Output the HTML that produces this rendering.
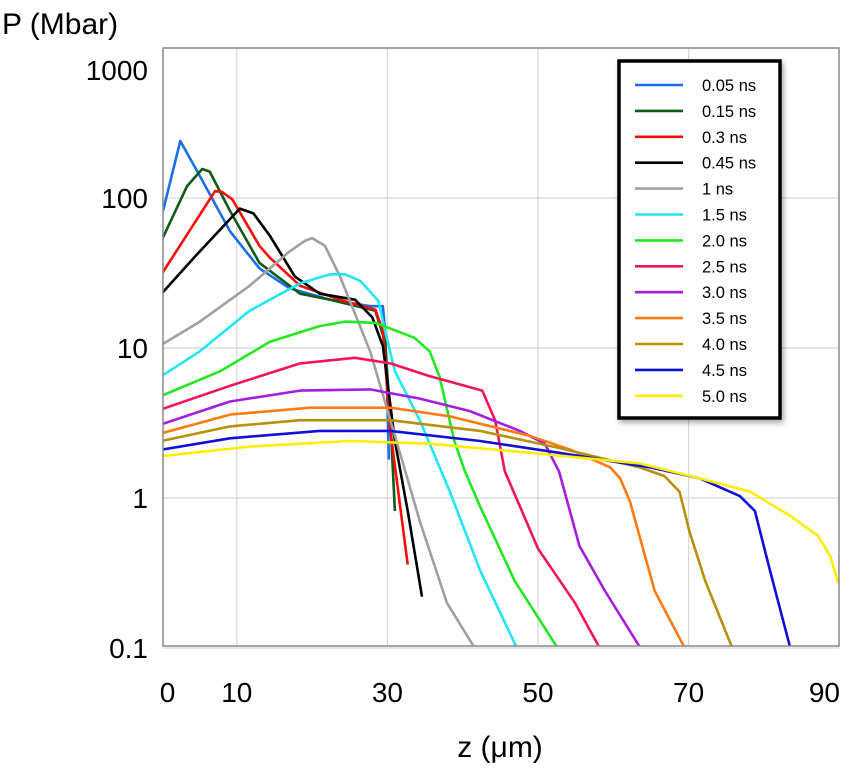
<!DOCTYPE html>
<html><head><meta charset="utf-8"><style>
body{margin:0;background:#fff;width:849px;height:776px;overflow:hidden;font-family:"Liberation Sans",sans-serif}
</style></head><body>
<svg id="chart" width="849" height="776" xmlns="http://www.w3.org/2000/svg">
<defs><clipPath id="pc"><rect x="163" y="48" width="676" height="598"/></clipPath>
<filter id="sh" x="-10%" y="-10%" width="130%" height="130%"><feDropShadow dx="2" dy="3" stdDeviation="3" flood-opacity="0.35"/></filter></defs>
<g id="grid"></g>
<g id="series" clip-path="url(#pc)"></g>
<rect x="163" y="48" width="676" height="598" fill="none" stroke="#888" stroke-width="1.5"/>
<g id="ticks" font-size="28" fill="#000"></g>
<text x="2" y="34" font-size="30">P (Mbar)</text>
<text x="500" y="757" font-size="30" text-anchor="middle">z (μm)</text>
<g id="legend"></g>
</svg>
<script>
const xTicks=[0,10,30,50,70,90];
const xGrid=[10,30,50,70];
const yTicks=[1000,100,10,1,0.1];
const yTickLabels=["1000","100","10","1","0.1"];
const seriesNames=["0.05 ns","0.15 ns","0.3 ns","0.45 ns","1 ns","1.5 ns","2.0 ns","2.5 ns","3.0 ns","3.5 ns","4.0 ns","4.5 ns","5.0 ns"];
const seriesColors=["#1a6fe8","#0f5a14","#ff0a0a","#000000","#a0a0a0","#22e6f5","#22e822","#f5145a","#a51ee0","#ff7a12","#b8900c","#1010d8","#ffee00"];
const z005=[0.2,2.5,5.1,9.1,13,17,22.4,27.7,29.4,29.7,30,30.2];
const p005=[82,240,140,60,34,25,21,19,19,13,4.4,1.8];
const z015=[0,3.4,5.4,6.4,9.1,13,18.4,22.4,28.4,29.7,30.4,31];
const p015=[52,120,156,150,82,37,23,21,17.7,11,3.3,0.82];
const z03=[0,7.1,8,9.4,13,14.4,18.4,23.7,28.4,29.4,30.4,32.7];
const p03=[31,111,110,98,48,40,26,21,18,13,2.8,0.36];
const z045=[0,4.5,10.4,12.2,14.4,17.7,21,25.7,28,29.4,31,32.7,34.6];
const p045=[23,41,85,79,56,30,23,21,16,10.3,2.4,0.82,0.22];
const z1=[0,5.1,11.7,17,19.1,20,21.7,23.7,27.7,30.4,34.3,37.9,41.6];
const p1=[10.5,15,26,44,52,54,48,30,9.5,3.3,0.7,0.2,0.1];
const z15=[0,5.1,11.7,18.4,22.4,24.4,26.4,28.8,29.7,31,34.3,38.3,42.3,47.2];
const p15=[6.5,9.5,17.7,27,31,31,28,20.6,13,7,3.3,1.1,0.33,0.1];
const z2=[0,7.8,14.4,21,24.4,28.4,33.6,35.6,36.9,38.9,40.3,42.3,46.9,52.6];
const p2=[4.8,7,11,14,15,14.7,11.7,9.5,6.5,2.4,1.5,0.88,0.28,0.1];
const z25=[0,9.1,18.4,25.7,30.4,35.6,42.6,44.3,45.6,47.6,50,54.9,58.2];
const p25=[3.9,5.6,7.9,8.6,7.9,6.5,5.2,3.3,1.5,0.88,0.46,0.2,0.1];
const z3=[0,9.1,18.4,27.7,34.3,40.9,47.6,50.9,52.8,55.5,58.9,63.6];
const p3=[3.1,4.4,5.2,5.3,4.6,3.8,2.8,2.3,1.5,0.48,0.24,0.1];
const z35=[0,9.1,19.7,30.4,38.3,48.9,54.3,59.6,60.9,62.2,65.5,69.5];
const p35=[2.7,3.6,4.0,4.0,3.5,2.6,2.1,1.6,1.35,0.95,0.24,0.1];
const z4=[0,9.1,18.4,30.4,42.3,52.9,63.5,66.8,68.8,70.1,72.2,75.8];
const p4=[2.4,3.0,3.3,3.3,2.8,2.15,1.6,1.4,1.1,0.6,0.28,0.1];
const z45=[0,9.1,21,30.4,42.3,52.8,64.9,71.5,76.8,78.8,80.8,83.5];
const p45=[2.1,2.5,2.8,2.8,2.4,2.0,1.6,1.35,1.03,0.82,0.33,0.1];
const z5=[0,11.7,25,35.6,48.9,63.5,71.5,78.2,83.5,87.2,88.8,89.9];
const p5=[1.9,2.2,2.4,2.3,2.0,1.7,1.35,1.1,0.76,0.56,0.41,0.27];
const allZ=[z005,z015,z03,z045,z1,z15,z2,z25,z3,z35,z4,z45,z5];
const allP=[p005,p015,p03,p045,p1,p15,p2,p25,p3,p35,p4,p45,p5];
const NS="http://www.w3.org/2000/svg";
function X(z){return 161.5+7.53*z;}
function Y(p){return 48+150*(3-Math.log10(p));}
function mk(t,a,parent){const e=document.createElementNS(NS,t);for(const k in a)e.setAttribute(k,a[k]);parent.appendChild(e);return e;}
const grid=document.getElementById('grid'),ticks=document.getElementById('ticks'),ser=document.getElementById('series'),leg=document.getElementById('legend');
xGrid.forEach(v=>{const l=mk('line',{x1:X(v),x2:X(v),y1:48,y2:646,stroke:'#d8d8d8','stroke-width':1.2},grid);

});
yTicks.forEach((v,i)=>{const l=mk('line',{x1:163,x2:839,y1:Y(v),y2:Y(v),stroke:'#d8d8d8','stroke-width':1.2},grid);


const t=mk('text',{x:148,y:Y(v)+(i==0?32:10),'text-anchor':'end'},ticks);t.textContent=yTickLabels[i];

});
xTicks.forEach(v=>{const t=mk('text',{x:v==90?840:X(v)+(v==0?6:0),y:702,'text-anchor':v==90?'end':'middle'},ticks);t.textContent=String(v);

});
allZ.forEach((zs,i)=>{const d=zs.map((z,j)=>(j?'L':'M')+X(z).toFixed(1)+','+Y(allP[i][j]).toFixed(1)).join('');
const p=mk('path',{d:d,fill:'none',stroke:seriesColors[i],'stroke-width':2.6,'stroke-linejoin':'round'},ser);

});
const box=mk('rect',{x:619,y:61,width:161,height:357,fill:'#fff',stroke:'#000','stroke-width':3.5,filter:'url(#sh)'},leg);


seriesNames.forEach((n,i)=>{const y=85+i*25.9;
const l=mk('line',{x1:635,x2:683,y1:y,y2:y,stroke:seriesColors[i],'stroke-width':2.6},leg);


const t=mk('text',{x:702,y:y+6,'font-size':16.5},leg);t.textContent=n;

});
</script>
</body></html>
